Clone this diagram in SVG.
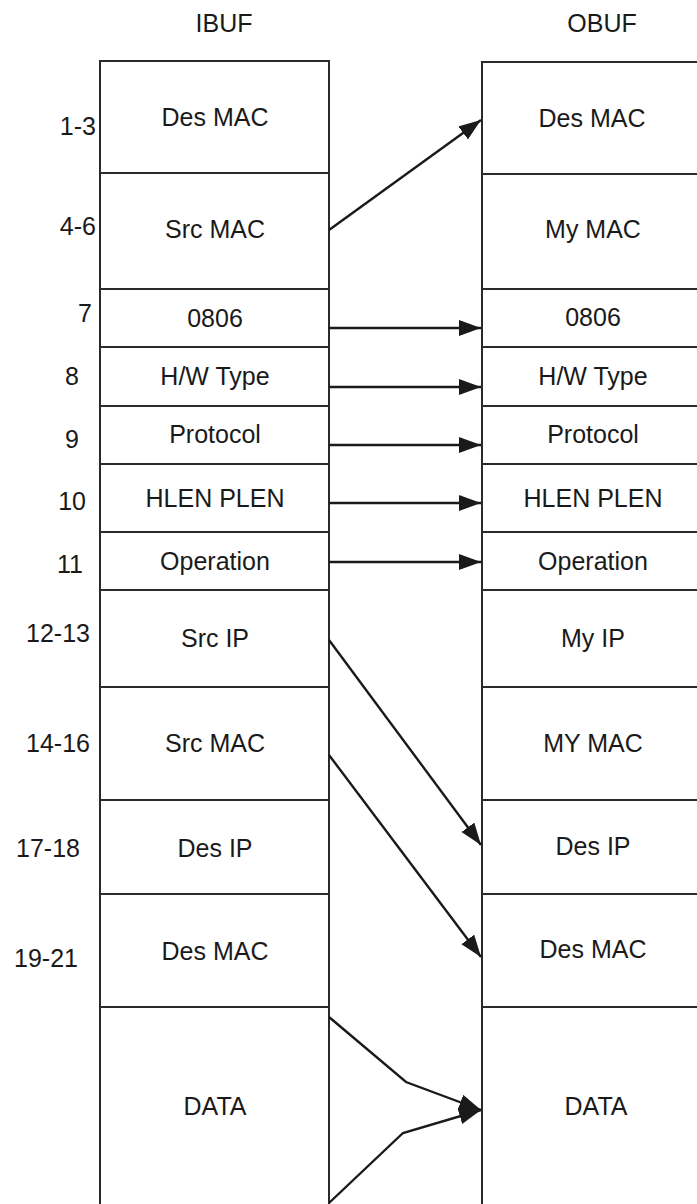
<svg xmlns="http://www.w3.org/2000/svg" width="697" height="1204" viewBox="0 0 697 1204">
<style>
text{font-family:"Liberation Sans",Arial,sans-serif;font-size:25px;fill:#1a1a1a}
.c{text-anchor:middle}
.n{text-anchor:end}
.box{fill:none;stroke:#2a2a2a;stroke-width:2}
.cell line{stroke:#2a2a2a;stroke-width:2}
.arr{fill:none;stroke:#1a1a1a;stroke-width:2.4;marker-end:url(#ah)}
</style>
<defs>
<marker id="ah" markerUnits="userSpaceOnUse" markerWidth="24" markerHeight="18" refX="22" refY="8" orient="auto" viewBox="0 0 24 18">
<path d="M0,0 L22,8 L0,16 z" fill="#1a1a1a"/>
</marker>
</defs>
<rect width="697" height="1204" fill="#ffffff"/>
<text class="c" x="224" y="32">IBUF</text>
<text class="c" x="602" y="32">OBUF</text>
<g id="ibuf">
<path class="box" d="M100,1206 V61 H329 V1206"/>
<g class="cell">
<line x1="100" y1="173" x2="329" y2="173"/>
<line x1="100" y1="289" x2="329" y2="289"/>
<line x1="100" y1="347" x2="329" y2="347"/>
<line x1="100" y1="406" x2="329" y2="406"/>
<line x1="100" y1="464" x2="329" y2="464"/>
<line x1="100" y1="532" x2="329" y2="532"/>
<line x1="100" y1="590" x2="329" y2="590"/>
<line x1="100" y1="687" x2="329" y2="687"/>
<line x1="100" y1="800" x2="329" y2="800"/>
<line x1="100" y1="894" x2="329" y2="894"/>
<line x1="100" y1="1007" x2="329" y2="1007"/>
</g>
<text class="c" x="215" y="126">Des MAC</text>
<text class="c" x="215" y="238">Src MAC</text>
<text class="c" x="215" y="327">0806</text>
<text class="c" x="215" y="385">H/W Type</text>
<text class="c" x="215" y="443">Protocol</text>
<text class="c" x="215" y="507">HLEN PLEN</text>
<text class="c" x="215" y="570">Operation</text>
<text class="c" x="215" y="647">Src IP</text>
<text class="c" x="215" y="752">Src MAC</text>
<text class="c" x="215" y="857">Des IP</text>
<text class="c" x="215" y="960">Des MAC</text>
<text class="c" x="215" y="1115">DATA</text>
</g>
<g id="obuf">
<path class="box" d="M482,1206 V62 H700"/>
<g class="cell">
<line x1="482" y1="174" x2="700" y2="174"/>
<line x1="482" y1="289" x2="700" y2="289"/>
<line x1="482" y1="347" x2="700" y2="347"/>
<line x1="482" y1="406" x2="700" y2="406"/>
<line x1="482" y1="464" x2="700" y2="464"/>
<line x1="482" y1="532" x2="700" y2="532"/>
<line x1="482" y1="590" x2="700" y2="590"/>
<line x1="482" y1="687" x2="700" y2="687"/>
<line x1="482" y1="800" x2="700" y2="800"/>
<line x1="482" y1="894" x2="700" y2="894"/>
<line x1="482" y1="1007" x2="700" y2="1007"/>
</g>
<text class="c" x="592" y="127">Des MAC</text>
<text class="c" x="593" y="238">My MAC</text>
<text class="c" x="593" y="326">0806</text>
<text class="c" x="593" y="385">H/W Type</text>
<text class="c" x="593" y="443">Protocol</text>
<text class="c" x="593" y="507">HLEN PLEN</text>
<text class="c" x="593" y="570">Operation</text>
<text class="c" x="593" y="647">My IP</text>
<text class="c" x="593" y="752">MY MAC</text>
<text class="c" x="593" y="855">Des IP</text>
<text class="c" x="593" y="958">Des MAC</text>
<text class="c" x="596" y="1115">DATA</text>
</g>
<g id="offsets">
<text class="n" x="96" y="135">1-3</text>
<text class="n" x="96" y="235">4-6</text>
<text class="n" x="92" y="322">7</text>
<text class="n" x="79" y="385">8</text>
<text class="n" x="79" y="448">9</text>
<text class="n" x="86" y="510">10</text>
<text class="n" x="83" y="573">11</text>
<text class="n" x="90" y="642">12-13</text>
<text class="n" x="90" y="752">14-16</text>
<text class="n" x="80" y="857">17-18</text>
<text class="n" x="78" y="967">19-21</text>
</g>
<g id="connectors">
<line class="arr" x1="329" y1="230" x2="481" y2="120"/>
<line class="arr" x1="329" y1="328" x2="481" y2="328"/>
<line class="arr" x1="329" y1="387" x2="481" y2="387"/>
<line class="arr" x1="329" y1="445" x2="481" y2="445"/>
<line class="arr" x1="329" y1="503" x2="481" y2="503"/>
<line class="arr" x1="329" y1="562" x2="481" y2="562"/>
<line class="arr" x1="329" y1="640" x2="481" y2="845"/>
<line class="arr" x1="329" y1="755" x2="481" y2="957"/>
<polyline class="arr" points="329,1017 406,1082 481,1110"/>
<polyline class="arr" points="329,1203 403,1133 481,1110"/>
</g>
</svg>
